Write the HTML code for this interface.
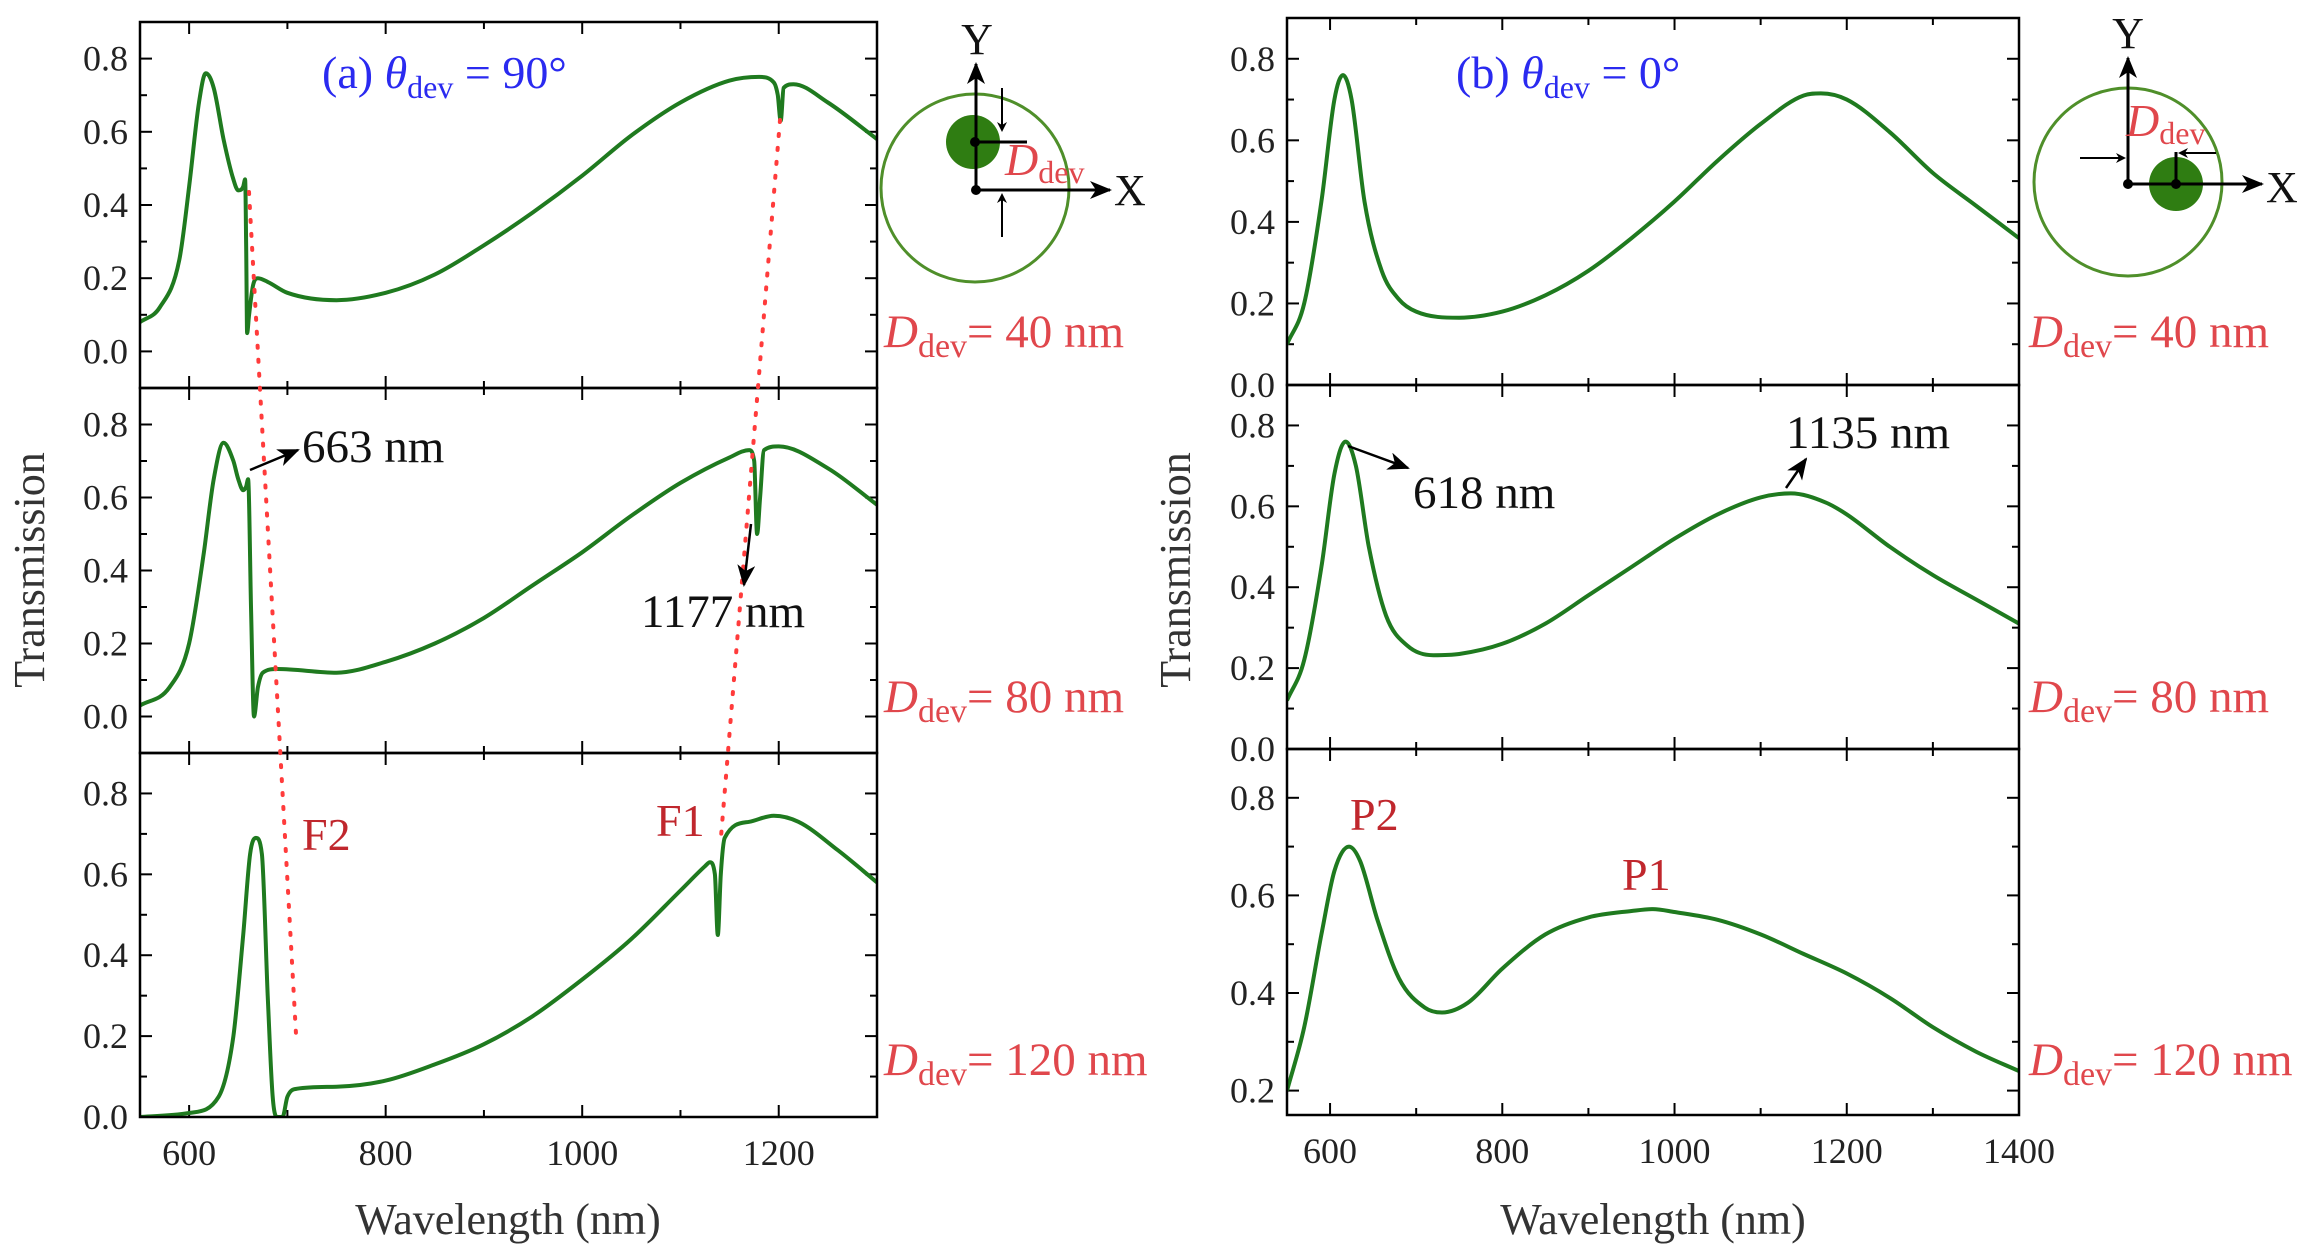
<!DOCTYPE html>
<html><head><meta charset="utf-8">
<style>
body{margin:0;background:#fff;}
svg{display:block;font-family:"Liberation Serif",serif;}
</style></head>
<body>
<svg id="fig" width="2313" height="1252" viewBox="0 0 2313 1252" xmlns="http://www.w3.org/2000/svg">
<defs>
<marker id="ah" markerWidth="10" markerHeight="10" refX="8" refY="5" orient="auto" markerUnits="userSpaceOnUse"><path d="M0,0 L10,5 L0,10 L3,5 Z" fill="#000"/></marker>
<marker id="ahb" markerWidth="22" markerHeight="18" refX="20" refY="9" orient="auto" markerUnits="userSpaceOnUse"><path d="M0,0 L22,9 L0,18 L6,9 Z" fill="#000"/></marker>
</defs>
<g id="plots"></g>
<g font-family="Liberation Serif, serif">
 <text x="508" y="1234" text-anchor="middle" font-size="44" fill="#333">Wavelength (nm)</text>
 <text x="1653" y="1234" text-anchor="middle" font-size="44" fill="#333">Wavelength (nm)</text>
 <text transform="translate(44,570) rotate(-90)" text-anchor="middle" font-size="44" fill="#333">Transmission</text>
 <text transform="translate(1190,570) rotate(-90)" text-anchor="middle" font-size="44" fill="#333">Transmission</text>
 <text x="322" y="88" font-size="46" fill="#2a2af0">(a)  <tspan font-style="italic">θ</tspan><tspan font-size="32" dy="10">dev</tspan><tspan dy="-10"> = 90°</tspan></text>
 <text x="1456" y="88" font-size="46" fill="#2a2af0">(b) <tspan font-style="italic">θ</tspan><tspan font-size="32" dy="10">dev</tspan><tspan dy="-10"> = 0°</tspan></text>
 <g fill="#e0474c" font-size="47">
  <text x="884" y="347"><tspan font-style="italic">D</tspan><tspan font-size="34" dy="10">dev</tspan><tspan dy="-10">= 40 nm</tspan></text>
  <text x="884" y="712"><tspan font-style="italic">D</tspan><tspan font-size="34" dy="10">dev</tspan><tspan dy="-10">= 80 nm</tspan></text>
  <text x="884" y="1075"><tspan font-style="italic">D</tspan><tspan font-size="34" dy="10">dev</tspan><tspan dy="-10">= 120 nm</tspan></text>
  <text x="2029" y="347"><tspan font-style="italic">D</tspan><tspan font-size="34" dy="10">dev</tspan><tspan dy="-10">= 40 nm</tspan></text>
  <text x="2029" y="712"><tspan font-style="italic">D</tspan><tspan font-size="34" dy="10">dev</tspan><tspan dy="-10">= 80 nm</tspan></text>
  <text x="2029" y="1075"><tspan font-style="italic">D</tspan><tspan font-size="34" dy="10">dev</tspan><tspan dy="-10">= 120 nm</tspan></text>
 </g>
 <g fill="#c0272d" font-size="46">
  <text x="302" y="850">F2</text>
  <text x="656" y="836">F1</text>
  <text x="1350" y="830">P2</text>
  <text x="1622" y="890">P1</text>
 </g>
 <g stroke="#ff3b3b" stroke-width="4" stroke-dasharray="2 12" stroke-linecap="round" fill="none">
  <line x1="249" y1="192" x2="296" y2="1034"/>
  <line x1="780" y1="120" x2="721" y2="837"/>
 </g>
 <g font-size="47" fill="#111">
  <text x="302" y="462">663 nm</text>
  <text x="641" y="627">1177 nm</text>
  <text x="1413" y="508">618 nm</text>
  <text x="1786" y="448">1135 nm</text>
 </g>
 <g stroke="#000" stroke-width="2.5" fill="none" marker-end="url(#ahb)">
  <line x1="250" y1="470" x2="298" y2="450"/>
  <line x1="751" y1="524" x2="744" y2="585"/>
  <line x1="1348" y1="446" x2="1408" y2="468"/>
  <line x1="1786" y1="488" x2="1806" y2="459"/>
 </g>
 <g>
  <circle cx="975" cy="188" r="94" fill="none" stroke="#4f8f2a" stroke-width="3"/>
  <circle cx="973" cy="142" r="27" fill="#2f7d12"/>
  <line x1="976" y1="190" x2="976" y2="64" stroke="#000" stroke-width="3" marker-end="url(#ahb)"/>
  <line x1="976" y1="190" x2="1110" y2="190" stroke="#000" stroke-width="3" marker-end="url(#ahb)"/>
  <line x1="975" y1="142" x2="1027" y2="142" stroke="#000" stroke-width="3"/>
  <circle cx="976" cy="190" r="5" fill="#000"/><circle cx="975" cy="142" r="5" fill="#000"/>
  <line x1="1002" y1="88" x2="1002" y2="130" stroke="#000" stroke-width="2" marker-end="url(#ah)"/>
  <line x1="1002" y1="237" x2="1002" y2="195" stroke="#000" stroke-width="2" marker-end="url(#ah)"/>
  <text x="977" y="54" text-anchor="middle" font-size="44" fill="#111">Y</text>
  <text x="1114" y="205" font-size="44" fill="#111">X</text>
  <text x="1005" y="175" font-size="46" fill="#e0474c"><tspan font-style="italic">D</tspan><tspan font-size="32" dy="8">dev</tspan></text>
 </g>
 <g>
  <circle cx="2128" cy="182" r="94" fill="none" stroke="#4f8f2a" stroke-width="3"/>
  <circle cx="2176" cy="184" r="27" fill="#2f7d12"/>
  <line x1="2128" y1="184" x2="2128" y2="58" stroke="#000" stroke-width="3" marker-end="url(#ahb)"/>
  <line x1="2128" y1="184" x2="2262" y2="184" stroke="#000" stroke-width="3" marker-end="url(#ahb)"/>
  <line x1="2176" y1="184" x2="2176" y2="152" stroke="#000" stroke-width="3"/>
  <circle cx="2128" cy="184" r="5" fill="#000"/><circle cx="2176" cy="184" r="5" fill="#000"/>
  <line x1="2080" y1="158" x2="2124" y2="158" stroke="#000" stroke-width="2" marker-end="url(#ah)"/>
  <line x1="2216" y1="153" x2="2180" y2="153" stroke="#000" stroke-width="2" marker-end="url(#ah)"/>
  <text x="2128" y="48" text-anchor="middle" font-size="44" fill="#111">Y</text>
  <text x="2266" y="202" font-size="44" fill="#111">X</text>
  <text x="2126" y="136" font-size="46" fill="#e0474c"><tspan font-style="italic">D</tspan><tspan font-size="32" dy="8">dev</tspan></text>
 </g>
</g>
</svg>
<script>
const wl_a1=[550,570,590,600,610,617,625,635,645,650,655,657,658,659,661,665,670,680,700,750,800,850,900,950,1000,1050,1100,1150,1180,1195,1199,1202,1205,1215,1250,1300];
const t_a1=[0.08,0.12,0.25,0.45,0.68,0.76,0.72,0.58,0.47,0.44,0.45,0.47,0.3,0.05,0.1,0.18,0.2,0.19,0.16,0.14,0.16,0.21,0.29,0.38,0.48,0.59,0.68,0.74,0.75,0.735,0.7,0.63,0.72,0.73,0.68,0.58];
const wl_a2=[550,580,600,615,625,635,645,650,655,658,660,663,666,670,675,690,750,800,850,900,950,1000,1050,1100,1150,1170,1175,1178,1181,1185,1200,1250,1300];
const t_a2=[0.03,0.08,0.2,0.45,0.65,0.75,0.7,0.65,0.62,0.63,0.65,0.3,0.0,0.08,0.12,0.13,0.12,0.15,0.2,0.27,0.36,0.45,0.55,0.64,0.71,0.73,0.7,0.5,0.6,0.73,0.74,0.68,0.58];
const wl_a3=[550,600,630,645,655,662,668,674,680,685,690,695,700,710,750,800,850,900,950,1000,1050,1100,1125,1130,1135,1138,1141,1145,1170,1195,1220,1260,1300];
const t_a3=[0,0.01,0.05,0.2,0.45,0.65,0.69,0.65,0.3,0.05,0.0,0.0,0.05,0.07,0.075,0.09,0.13,0.18,0.25,0.34,0.44,0.56,0.62,0.63,0.6,0.45,0.6,0.69,0.73,0.745,0.73,0.66,0.58];
const wl_b1=[550,570,590,605,615,625,640,660,680,700,750,800,850,900,950,1000,1050,1100,1150,1170,1200,1250,1300,1350,1400];
const t_b1=[0.1,0.2,0.45,0.7,0.76,0.7,0.45,0.28,0.21,0.18,0.165,0.18,0.22,0.28,0.36,0.45,0.55,0.64,0.71,0.715,0.7,0.62,0.52,0.44,0.36];
const wl_b2=[550,570,590,605,618,630,645,665,690,720,750,800,850,900,950,1000,1050,1100,1135,1175,1200,1250,1300,1350,1400];
const t_b2=[0.12,0.22,0.45,0.68,0.76,0.7,0.5,0.33,0.255,0.232,0.235,0.26,0.31,0.38,0.45,0.52,0.58,0.622,0.632,0.61,0.58,0.5,0.43,0.37,0.31];
const wl_b3=[550,570,590,605,622,635,655,680,710,730,760,800,850,900,950,975,1000,1050,1100,1150,1200,1250,1300,1350,1400];
const t_b3=[0.2,0.33,0.52,0.65,0.7,0.67,0.55,0.43,0.37,0.36,0.38,0.45,0.52,0.555,0.568,0.572,0.566,0.55,0.52,0.48,0.44,0.39,0.33,0.28,0.24];
const yticks_a=[0,0.2,0.4,0.6,0.8];
const yticks_b3=[0.2,0.4,0.6,0.8];
const xticks_a=[600,800,1000,1200];
const xticks_b=[600,800,1000,1200,1400];

const NS="http://www.w3.org/2000/svg";
const plots=document.getElementById('plots');
function mk(tag,attrs,parent){const e=document.createElementNS(NS,tag);for(const k in attrs)e.setAttribute(k,attrs[k]);(parent||plots).appendChild(e);return e;}
function monoPath(xs,ys){
 const n=xs.length;const d=[],m=new Array(n);
 for(let i=0;i<n-1;i++)d.push((ys[i+1]-ys[i])/(xs[i+1]-xs[i]));
 m[0]=d[0];m[n-1]=d[n-2];
 for(let i=1;i<n-1;i++){m[i]=(d[i-1]*d[i]<=0)?0:(d[i-1]+d[i])/2;}
 for(let i=0;i<n-1;i++){if(d[i]===0){m[i]=0;m[i+1]=0;continue;}const a=m[i]/d[i],b=m[i+1]/d[i],s=a*a+b*b;if(s>9){const t=3/Math.sqrt(s);m[i]=t*a*d[i];m[i+1]=t*b*d[i];}}
 let p='M'+xs[0].toFixed(1)+','+ys[0].toFixed(1);
 for(let i=0;i<n-1;i++){const h=(xs[i+1]-xs[i])/3;
  p+=' C'+(xs[i]+h).toFixed(1)+','+(ys[i]+m[i]*h).toFixed(1)+' '+(xs[i+1]-h).toFixed(1)+','+(ys[i+1]-m[i+1]*h).toFixed(1)+' '+xs[i+1].toFixed(1)+','+ys[i+1].toFixed(1);}
 return p;
}
const panels=[
 {id:'a1',x0:140,x1:877,y0:22,y1:388,xmin:550,xmax:1300,ymin:-0.1,ymax:0.9,wl:wl_a1,t:t_a1,yt:yticks_a,xt:null},
 {id:'a2',x0:140,x1:877,y0:388,y1:753,xmin:550,xmax:1300,ymin:-0.1,ymax:0.9,wl:wl_a2,t:t_a2,yt:yticks_a,xt:null},
 {id:'a3',x0:140,x1:877,y0:753,y1:1117,xmin:550,xmax:1300,ymin:0,ymax:0.9,wl:wl_a3,t:t_a3,yt:yticks_a,xt:xticks_a},
 {id:'b1',x0:1287,x1:2019,y0:18,y1:385,xmin:550,xmax:1400,ymin:0,ymax:0.9,wl:wl_b1,t:t_b1,yt:yticks_a,xt:null},
 {id:'b2',x0:1287,x1:2019,y0:385,y1:749,xmin:550,xmax:1400,ymin:0,ymax:0.9,wl:wl_b2,t:t_b2,yt:yticks_a,xt:null},
 {id:'b3',x0:1287,x1:2019,y0:749,y1:1115,xmin:550,xmax:1400,ymin:0.15,ymax:0.9,wl:wl_b3,t:t_b3,yt:yticks_b3,xt:xticks_b}
];
panels.forEach(p=>{
 const sx=v=>p.x0+(v-p.xmin)/(p.xmax-p.xmin)*(p.x1-p.x0);
 const sy=v=>p.y1-(v-p.ymin)/(p.ymax-p.ymin)*(p.y1-p.y0);
 const g=mk('g',{});
 
 
 for(let v=Math.ceil(p.xmin/100)*100;v<=p.xmax;v+=100){
  const len=(v%200===0)?12:7;const X=sx(v);
  mk('line',{x1:X,x2:X,y1:p.y1,y2:p.y1-len,stroke:'#000','stroke-width':2},g);
  mk('line',{x1:X,x2:X,y1:p.y0,y2:p.y0+len,stroke:'#000','stroke-width':2},g);
 }
 for(let i=Math.ceil(p.ymin*10-1e-6);i<=Math.floor(p.ymax*10+1e-6);i++){
  const v=i/10;const len=(i%2===0)?12:7;const Y=sy(v);
  mk('line',{x1:p.x0,x2:p.x0+len,y1:Y,y2:Y,stroke:'#000','stroke-width':2},g);
  mk('line',{x1:p.x1,x2:p.x1-len,y1:Y,y2:Y,stroke:'#000','stroke-width':2},g);
 }
 p.yt.forEach(v=>{
  const t=mk('text',{x:p.x0-12,y:sy(v)+12,'text-anchor':'end','font-size':36,fill:'#222'},g);
  t.textContent=v.toFixed(1);
  
  
 });
 if(p.xt){p.xt.forEach(v=>{
  const t=mk('text',{x:sx(v),y:p.y1+48,'text-anchor':'middle','font-size':36,fill:'#222'},g);
  t.textContent=v;
  
  
 });}
 const cp=mk('clipPath',{id:'cp'+p.id},g);
 mk('rect',{x:p.x0,y:p.y0,width:p.x1-p.x0,height:p.y1-p.y0},cp);
 const line=mk('path',{d:monoPath(p.wl.map(sx),p.t.map(sy)),fill:'none',stroke:'#1f7a1f','stroke-width':4,'stroke-linejoin':'round','clip-path':'url(#cp'+p.id+')'},g);
 
 
 mk('rect',{x:p.x0,y:p.y0,width:p.x1-p.x0,height:p.y1-p.y0,fill:'none',stroke:'#000','stroke-width':2.5},g);
});
</script>
</body></html>
